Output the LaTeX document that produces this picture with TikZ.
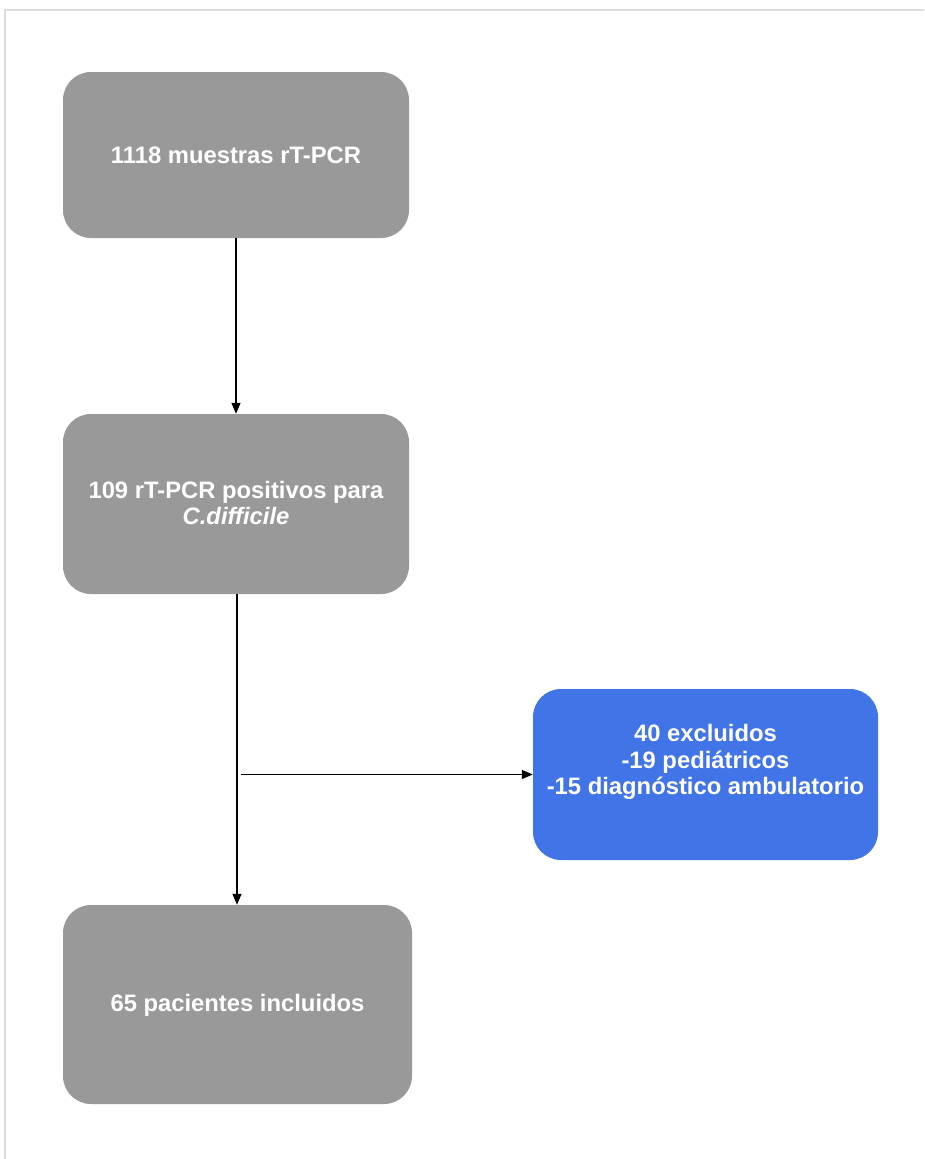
\documentclass[tikz,border=0pt]{standalone}
\usepackage{fontspec}
\setmainfont{Liberation Sans}
\usetikzlibrary{arrows.meta}
\definecolor{boxgray}{RGB}{153,153,153}
\definecolor{boxblue}{RGB}{65,116,230}
\definecolor{framegray}{RGB}{220,220,220}
\tikzset{
  box/.style={draw=none, rounded corners=28pt, inner sep=0pt},
  graybox/.style={box, fill=boxgray},
  bluebox/.style={box, fill=boxblue},
  txt/.style={text=white, font=\fontsize{23.8}{26.5}\selectfont\bfseries, align=center, inner sep=0pt},
  conn/.style={draw=black, line width=1.2pt, -{Triangle[length=11pt,width=9pt]}},
  plain/.style={draw=black, line width=1.2pt},
}
\begin{document}
\begin{tikzpicture}[x=1pt,y=-1pt]
\useasboundingbox (0,0) rectangle (924,1159);
\fill[white] (0,0) rectangle (924,1159);
\draw[framegray, line width=2.5pt] (5,1159) -- (5,10) -- (924,10);

\node[graybox, minimum width=346pt, minimum height=166pt] (b1) at (236,155) {};
\node[txt] (t1) at (236,155) {1118 muestras rT-PCR};

\node[graybox, minimum width=346pt, minimum height=180pt] (b2) at (236,504) {};
\node[txt] (t2) at (236,503) {109 rT-PCR positivos para\\\itshape C.difficile};

\node[bluebox, minimum width=345pt, minimum height=171pt] (b3) at (705.5,774.5) {};
\node[txt] (t3) at (705.5,762) {40 excluidos\\-19 pedi\'atricos\\-15 diagn\'ostico ambulatorio};

\node[graybox, minimum width=349pt, minimum height=199pt] (b4) at (237.5,1004.5) {};
\node[txt] (t4) at (237.5,1005) {65 pacientes incluidos};

\draw[conn] (b1.south) -- (b2.north);
\coordinate (top2) at ([xshift=1pt]b2.south);
\coordinate (bot4) at (top2 |- b4.north);
\draw[conn] (top2) -- (bot4);
\coordinate (br) at ([xshift=4pt]top2 |- b3.west);
\draw[conn] (br) -- (b3.west);
\end{tikzpicture}
\end{document}
